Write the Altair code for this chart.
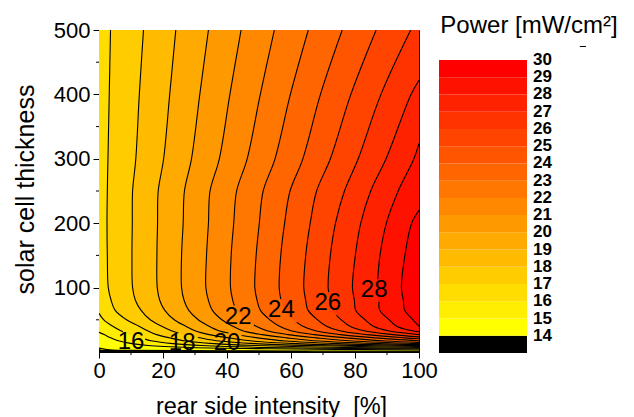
import altair as alt
import pandas as pd

# ---------------- axes ----------------
x_ticks = [0, 20, 40, 60, 80, 100]
y_ticks = [100, 200, 300, 400, 500]
x_minor = [10, 30, 50, 70, 90]
y_minor = [50, 150, 250, 350, 450]

# ---------------- colour bands (lower bound of band) ----------------
band_lo = list(range(13, 30))
band_colors = ["#000000", "#FFFF00", "#FFEE00", "#FFDD00", "#FFCC00", "#FFBB00",
               "#FFAA00", "#FF9900", "#FF8800", "#FF7700", "#FF6600", "#FF5500",
               "#FF4400", "#FF3300", "#FF2200", "#FF1100", "#FF0000"]
cbar_ticks = list(range(14, 31))

# ---------------- contour lines (x = rear %, y = thickness) ----------------
contours = {
    14: ([0, 3.0, 10.0, 40.0, 100], [6, 3.5, 2.5, 1.8, 1.2]),
    15: ([0, 1.6, 3.7, 6.3, 10.3, 15.3, 28.6, 53.6, 100], [30.5, 27, 22, 17, 13, 10, 7, 5, 3.2]),
    16: ([0, 1.5, 4.3, 6.8, 7.5, 9.8, 12.8, 14.4, 16.7, 23.1, 32.2, 52.4, 89.3, 100],
         [60, 50, 40, 33, 31.5, 27, 22, 20, 17, 13, 10, 7, 5, 4.6]),
    17: ([3.6, 3.2, 2.8, 2.6, 2.5, 2.6, 2.9, 3.8, 5.0, 8.6, 12.5, 15.2, 18.0, 22.0, 27.1, 35.9, 49.2, 76.2, 100],
         [500, 400, 300, 250, 200, 150, 100, 80, 65, 50, 40, 33, 27, 22, 17, 13, 10, 7, 5.8]),
    18: ([13.9, 12.6, 11.5, 10.5, 10.4, 10.3, 10.5, 11.4, 13.1, 16.0, 19.6, 22.6, 24.8, 26.6, 30.9, 31.5, 37.5, 48.7, 66.1, 100],
         [500, 400, 300, 250, 200, 150, 100, 80, 65, 50, 40, 33, 29.5, 27, 22.5, 22, 17, 13, 10, 7]),
    19: ([24.0, 22.1, 20.2, 18.5, 18.3, 18.1, 18.2, 19.0, 20.5, 23.5, 27.1, 30.0, 34.4, 40.4, 47.9, 61.5, 83.1, 100],
         [500, 400, 300, 250, 200, 150, 100, 80, 65, 50, 40, 33, 27, 22, 17, 13, 10, 8.7]),
    20: ([34.2, 31.5, 28.9, 26.7, 26.3, 25.8, 25.8, 26.6, 28.0, 31.0, 34.4, 37.4, 40.5, 42.6, 44.6, 49.5, 58.3, 74.4, 100],
         [500, 400, 300, 250, 200, 150, 100, 80, 65, 50, 40, 33, 29.5, 27, 25.6, 22, 17, 13, 10]),
    21: ([44.4, 40.9, 37.6, 34.7, 34.2, 33.6, 33.4, 34.2, 35.4, 38.4, 41.8, 44.9, 50.8, 58.7, 68.8, 87.2, 100],
         [500, 400, 300, 250, 200, 150, 100, 80, 65, 50, 40, 33, 27, 22, 17, 13, 11.5]),
    22: ([54.8, 50.4, 46.3, 43.0, 42.1, 41.3, 41.1, 41.8, 42.3, 42.9, 45.9, 48.4, 49.1, 52.5, 59.0, 67.9, 79.2, 100],
         [500, 400, 300, 250, 200, 150, 100, 80, 72, 65, 50, 42, 40, 33, 27, 22, 17, 13]),
    23: ([65.4, 59.8, 55.0, 51.3, 50.1, 49.1, 48.7, 49.4, 50.4, 53.4, 56.4, 60.0, 67.2, 77.1, 89.6, 100],
         [500, 400, 300, 250, 200, 150, 100, 80, 65, 50, 40, 33, 27, 22, 17, 15]),
    24: ([76.0, 69.2, 63.7, 59.7, 58.0, 56.8, 56.3, 56.8, 57.8, 60.8, 61.8, 63.7, 67.6, 75.4, 86.2, 100],
         [500, 400, 300, 250, 200, 150, 100, 82, 65, 50, 46, 40, 33, 27, 22, 17.5]),
    25: ([86.6, 78.7, 72.3, 68.0, 66.0, 64.6, 64.0, 64.6, 65.3, 68.3, 71.1, 75.2, 83.6, 95.4, 100],
         [500, 400, 300, 250, 200, 150, 100, 80, 65, 50, 40, 33, 27, 22, 20.5]),
    26: ([97.4, 88.1, 81.0, 76.7, 73.9, 72.3, 71.6, 71.8, 72.2, 72.8, 74.2, 75.7, 78.4, 82.8, 91.8, 100],
         [500, 400, 300, 250, 200, 150, 100, 93, 80, 65, 57, 50, 40, 33, 27, 23.5]),
    27: ([100, 97.5, 89.7, 84.9, 81.8, 80.1, 79.2, 79.8, 80.2, 83.2, 85.7, 90.3, 100],
         [422, 400, 300, 250, 200, 150, 100, 80, 65, 50, 40, 33, 27]),
    28: ([100, 98.4, 93.5, 89.8, 87.8, 87.1, 86.9, 87.5, 87.7, 90.7, 93.0, 97.8, 100],
         [324, 300, 250, 200, 150, 113, 100, 78, 65, 50, 40, 33, 31.5]),
    29: ([100, 97.7, 95.6, 94.5, 95.1, 95.5, 98.1, 100],
         [220, 200, 150, 100, 80, 65, 50, 40]),
}
# where each labelled contour is interrupted by its label: (upper y, lower y)
gaps = {16: (31.5, 20), 18: (29.5, 22.5), 20: (29.5, 25.6), 22: (72, 42),
        24: (82, 46), 26: (93, 57), 28: (113, 78)}

# contour labels
lab_text = ["16", "18", "20", "22", "24", "26", "28"]
lab_x = [10, 26, 40, 43.5, 57, 71.5, 86]
lab_y = [16, 14, 14, 54, 65, 76, 96]

FONT = "Liberation Sans"
xs = alt.Scale(domain=[0, 100], nice=False, zero=False)
ys = alt.Scale(domain=[0, 500], nice=False, zero=False)

x_axis = alt.Axis(values=x_ticks, title="rear side intensity \u00a0[%]", tickSize=6, labelPadding=2,
                  labelFontSize=22, titleFontSize=23.5, titleFontWeight="normal", labelFlush=False,
                  titleX=172, titleY=61, titleBaseline="alphabetic", titleAlign="center",
                  grid=False, domainColor="black", tickColor="black", labelColor="black",
                  titleColor="black", labelFont=FONT, titleFont=FONT)
y_axis = alt.Axis(values=y_ticks, title="solar cell thickness", tickSize=6, labelPadding=3,
                  labelFontSize=22, titleFontSize=25, titleFontWeight="normal",
                  titleAngle=270, titleX=-65.7, titleY=159, titleBaseline="alphabetic",
                  titleAlign="center", grid=False, domainColor="black", tickColor="black",
                  labelColor="black", titleColor="black", labelFont=FONT, titleFont=FONT)

# background (below lowest level)
bg = alt.Chart(pd.DataFrame({"a": [0]})).mark_rect(color="#000000").encode(
    x=alt.datum(0, scale=xs, axis=x_axis), x2=alt.datum(100),
    y=alt.datum(0, scale=ys, axis=y_axis), y2=alt.datum(500))

areas = []
line_rows = []
for i, L in enumerate(range(14, 30)):
    cx, cy = contours[L]
    ax, ay = list(cx), list(cy)
    if L <= 16:
        ax = [0] + ax
        ay = [500] + ay
    adf = pd.DataFrame({"x": ax, "y": ay}).sort_values("y")
    areas.append(
        alt.Chart(adf).mark_area(orient="horizontal", interpolate="catmull-rom",
                                 color=band_colors[i + 1], clip=True).encode(
            x=alt.X("x:Q", scale=xs, axis=x_axis), x2=alt.datum(100),
            y=alt.Y("y:Q", scale=ys, axis=y_axis))
    )
    g = gaps.get(L)
    for k, (px, py) in enumerate(zip(cx, cy)):
        if g is None:
            seg = f"{L}a"
        elif py >= g[0]:
            seg = f"{L}a"
        elif py <= g[1]:
            seg = f"{L}b"
        else:
            continue
        line_rows.append({"seg": seg, "i": k, "x": px, "y": py})

lines = alt.Chart(pd.DataFrame(line_rows)).mark_line(
    color="black", strokeWidth=1.1, interpolate="catmull-rom", clip=True).encode(
    x=alt.X("x:Q", scale=xs), y=alt.Y("y:Q", scale=ys), detail="seg:N", order="i:Q")

labels = alt.Chart(pd.DataFrame({"t": lab_text, "x": lab_x, "y": lab_y})).mark_text(
    fontSize=24, font=FONT, color="black", baseline="middle", align="center").encode(
    x=alt.X("x:Q", scale=xs), y=alt.Y("y:Q", scale=ys), text="t:N")

xminor = alt.Chart(pd.DataFrame({"x": x_minor})).mark_rule(color="black", y2Offset=3).encode(
    x=alt.X("x:Q", scale=xs), y=alt.datum(0, scale=ys), y2=alt.datum(0))
yminor = alt.Chart(pd.DataFrame({"y": y_minor})).mark_rule(color="black", x2Offset=-3).encode(
    y=alt.Y("y:Q", scale=ys), x=alt.datum(0, scale=xs), x2=alt.datum(0))

main = alt.layer(bg, *areas, lines, labels, xminor, yminor)

# ---------------- colour bar ----------------
cbs_x = alt.Scale(domain=[-3.8636, -0.2273], nice=False, zero=False)
cbs_y = alt.Scale(domain=[13.058, 31.741], nice=False, zero=False)
cb_df = pd.DataFrame({"lo": band_lo, "hi": [v + 1 for v in band_lo], "c": band_colors})
cbar = alt.Chart(cb_df).mark_rect().encode(
    x=alt.datum(0, scale=cbs_x, axis=None), x2=alt.datum(1),
    y=alt.Y("lo:Q", scale=cbs_y, axis=None),
    y2="hi:Q", color=alt.Color("c:N", scale=None))
cb_labels = alt.Chart(pd.DataFrame({"v": cbar_ticks, "t": [str(v) for v in cbar_ticks]})).mark_text(
    fontSize=17, font=FONT, fontWeight="bold", color="black", align="left", baseline="middle", dx=6
).encode(x=alt.datum(1, scale=cbs_x), y=alt.Y("v:Q", scale=cbs_y), text="t:N")
cb_title = alt.Chart(pd.DataFrame({"t": ["Power [mW/cm\u00b2]"]})).mark_text(
    fontSize=24, font=FONT, color="black", baseline="alphabetic", align="center").encode(
    x=alt.datum(1.0227, scale=cbs_x), y=alt.datum(31.567, scale=cbs_y), text="t:N")
cb_dash = alt.Chart(pd.DataFrame({"a": [0]})).mark_rule(color="black", strokeWidth=1).encode(
    x=alt.datum(1.60, scale=cbs_x), x2=alt.datum(1.67), y=alt.datum(30.784, scale=cbs_y))
colorbar = alt.layer(cbar, cb_labels, cb_title, cb_dash)

chart = alt.layer(main, colorbar).resolve_scale(x="independent", y="independent").properties(
    width=320, height=322,
    autosize=alt.AutoSizeParams(type="none"),
    padding={"left": 99, "top": 30, "right": 215, "bottom": 65},
).configure_view(stroke="black", strokeWidth=1).configure_axis(domainWidth=1, tickWidth=1)

chart.save("out.html", embed_options={"renderer": "svg", "actions": False})
